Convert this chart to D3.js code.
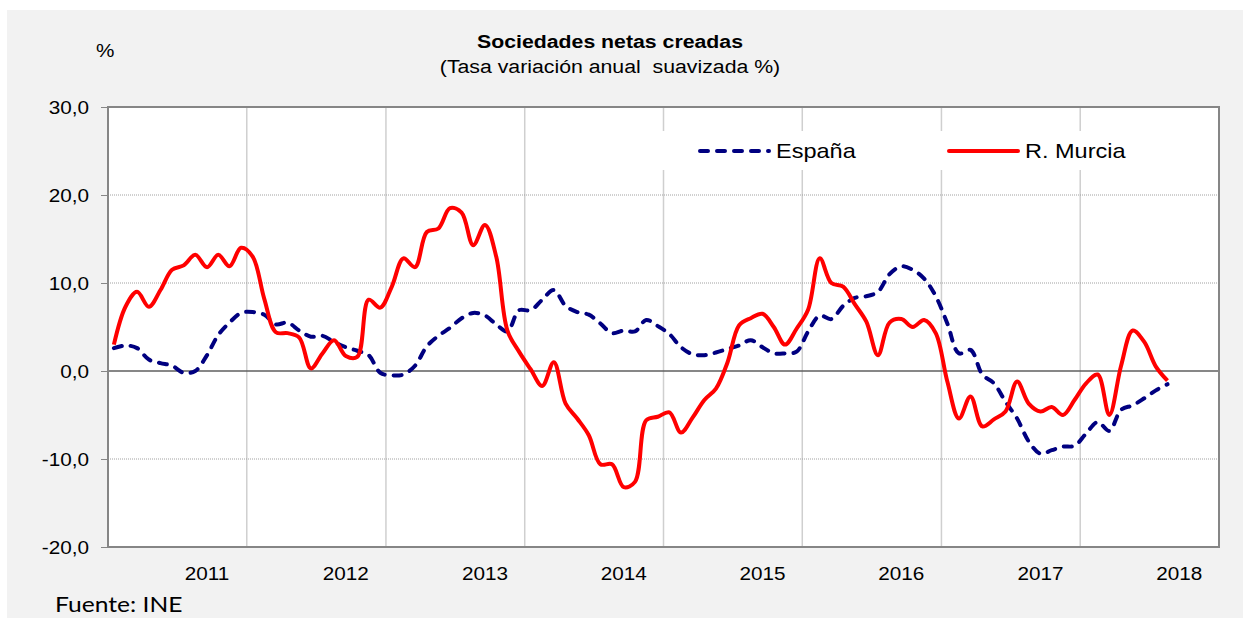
<!DOCTYPE html>
<html>
<head>
<meta charset="utf-8">
<script src="https://cdn.jsdelivr.net/npm/d3@7"></script>
<style>
body { margin: 0; background: #fff; }
text { font-family: "Liberation Sans", Arial, sans-serif; fill: #000; }
text.source { font-family: Lato, "Open Sans", sans-serif; }
</style>
</head>
<body>
<div class="chart"></div>
<script>
// monthly categories, May 2010 .. Dec 2017
var months = d3.timeMonth.range(new Date(2010, 4, 1), new Date(2018, 0, 1));

var espana = [2.6, 2.9, 2.6, 1.3, 0.9, 0.6, -0.2, 0.0, 1.8, 4.1,
  5.5, 6.6, 6.7, 6.4, 5.3, 5.5, 4.6, 3.9, 4.0, 3.3,
  2.7, 2.3, 1.8, -0.2, -0.5, -0.4, 0.6, 2.8, 4.0, 4.9,
  6.0, 6.6, 6.3, 5.3, 4.5, 6.9, 6.9, 8.1, 9.2, 7.4,
  6.7, 6.4, 5.4, 4.3, 4.6, 4.5, 5.8, 5.1, 4.2, 2.7,
  1.9, 1.8, 2.1, 2.5, 2.9, 3.5, 2.7, 2.0, 2.0, 2.2,
  4.5, 6.3, 5.9, 7.4, 8.3, 8.5, 9.0, 11.0, 11.9, 11.5,
  10.5, 8.5, 5.4, 2.0, 2.4, -0.4, -1.4, -3.5, -5.4, -8.0,
  -9.4, -9.0, -8.6, -8.5, -7.1, -5.8, -6.8, -4.4, -3.9, -3.1,
  -2.2, -1.5];

var murcia = [3.0, 7.3, 9.0, 7.3, 9.2, 11.5, 12.0, 13.2, 11.8, 13.2,
  11.9, 14.0, 13.0, 8.2, 4.4, 4.3, 3.8, 0.3, 2.0, 3.5,
  1.7, 1.6, 8.1, 7.2, 9.6, 12.8, 11.8, 15.8, 16.2, 18.5,
  18.0, 14.3, 16.6, 13.0, 4.6, 2.2, 0.2, -1.7, 1.0, -3.7,
  -5.4, -7.3, -10.6, -10.6, -13.2, -12.6, -5.6, -5.2, -4.7, -7.0,
  -5.3, -3.3, -2.0, 1.0, 5.2, 6.0, 6.5, 5.0, 3.0, 4.8,
  7.0, 12.8, 10.0, 9.6, 7.6, 5.6, 1.8, 5.5, 5.9, 5.0,
  5.8, 4.3, -1.2, -5.4, -2.9, -6.3, -5.5, -4.6, -1.2, -3.7,
  -4.6, -4.1, -5.0, -3.3, -1.4, -0.4, -5.0, 0.6, 4.6, 3.3,
  0.5, -1.1];

var yearLabels = ["2011", "2012", "2013", "2014", "2015", "2016", "2017", "2018"];
var yTicks = [30, 20, 10, 0, -10, -20];
var seriesNames = ["España", "R. Murcia"];

var width = 1243, height = 618,
margin = {top: 107, right: 24, bottom: 71, left: 108},
sx = 1.12; // the reference text is a bit wider than plain Arial

var svg = d3.select(".chart").append("svg")
  .attr("width", width)
  .attr("height", height);

svg.append("rect")
  .attr("x", 7).attr("y", 10)
  .attr("width", width - 7).attr("height", height - 10)
  .attr("fill", "#f2f2f2");

var x = d3.scaleTime()
  .domain([new Date(2010, 4, 1), new Date(2018, 4, 1)])
  .range([margin.left, width - margin.right]);

var y = d3.scaleLinear()
  .domain([-20, 30])
  .range([height - margin.bottom, margin.top]);

function mid(d) {
  return new Date((+d + +d3.timeMonth.offset(d, 1)) / 2);
}

function addText(parent, px, py, str, size, anchor, weight) {
  return parent.append("text")
    .attr("transform", "translate(" + px + "," + py + ") scale(" + sx + ",1)")
    .attr("text-anchor", anchor)
    .attr("font-size", size)
    .attr("font-weight", weight || null)
    .text(str);
}

// plot area
svg.append("rect")
  .attr("x", x.range()[0]).attr("y", y.range()[1])
  .attr("width", x.range()[1] - x.range()[0])
  .attr("height", y.range()[0] - y.range()[1])
  .attr("fill", "#fff");

var grid = svg.append("g").attr("class", "grid");

grid.selectAll(".vline")
  .data(d3.timeMonth.range(new Date(2011, 4, 1), new Date(2018, 4, 1), 12))
  .enter()
  .append("line")
  .attr("x1", function(d) { return x(d); })
  .attr("x2", function(d) { return x(d); })
  .attr("y1", y(30))
  .attr("y2", y(-20))
  .style("stroke", "#cfcfcf")
  .style("stroke-width", 1.5);

grid.selectAll(".hline")
  .data(yTicks.filter(function(d) { return d < 30 && d > -20; }))
  .enter()
  .append("line")
  .attr("x1", x.range()[0])
  .attr("x2", x.range()[1])
  .attr("y1", function(d) { return y(d); })
  .attr("y2", function(d) { return y(d); })
  .style("stroke", function(d) { return d === 0 ? "#5f5f5f" : "#a0a0a0"; })
  .style("stroke-width", function(d) { return d === 0 ? 1.3 : 1; })
  .style("stroke-dasharray", function(d) { return d === 0 ? null : "1,1"; });

// legend box hides the grid behind it
svg.append("rect")
  .attr("x", 652).attr("y", 131)
  .attr("width", 552).attr("height", 39)
  .attr("fill", "#fff");

// y axis
var fmt = function(d) { return d3.format(".1f")(d).replace(".", ",").replace("\u2212", "-"); };
var yAxis = svg.append("g")
  .attr("transform", "translate(" + margin.left + ",0)")
  .call(d3.axisLeft(y).tickValues(yTicks).tickSize(7).tickFormat(fmt));
yAxis.select(".domain").remove();
yAxis.selectAll(".tick line").style("stroke", "#868686");
yAxis.selectAll(".tick text")
  .attr("x", -19 / sx)
  .attr("dy", "0.36em")
  .attr("transform", "scale(" + sx + ",1)")
  .attr("font-size", 18.5)
  .style("fill", "#000");

// x labels (January of each year)
var xLabels = svg.append("g").attr("class", "xlabels");
yearLabels.forEach(function(yr) {
  addText(xLabels, x(mid(new Date(+yr, 0, 1))), 580, yr, 18.5, "middle");
});

// lines
var line = d3.line()
  .x(function(d, i) { return x(mid(months[i])); })
  .y(function(d) { return y(d); })
  .curve(d3.curveCatmullRom.alpha(0.5));

svg.append("path")
  .datum(espana)
  .attr("d", line)
  .attr("fill", "none")
  .style("stroke", "#000080")
  .style("stroke-width", 4)
  .style("stroke-linecap", "round")
  .style("stroke-dasharray", "8,9");

svg.append("path")
  .datum(murcia)
  .attr("d", line)
  .attr("fill", "none")
  .style("stroke", "#ff0000")
  .style("stroke-width", 4)
  .style("stroke-linejoin", "round");

// plot border
svg.append("rect")
  .attr("x", x.range()[0]).attr("y", y.range()[1])
  .attr("width", x.range()[1] - x.range()[0])
  .attr("height", y.range()[0] - y.range()[1])
  .attr("fill", "none")
  .style("stroke", "#868686")
  .style("stroke-width", 2);

// legend
var legend = svg.append("g").attr("class", "legend");
legend.append("line")
  .attr("x1", 700).attr("x2", 769).attr("y1", 151).attr("y2", 151)
  .style("stroke", "#000080").style("stroke-width", 4)
  .style("stroke-linecap", "round").style("stroke-dasharray", "8,9");
addText(legend, 776, 158, seriesNames[0], 21, "start");
legend.append("line")
  .attr("x1", 949).attr("x2", 1018).attr("y1", 151).attr("y2", 151)
  .style("stroke", "#ff0000").style("stroke-width", 4)
  .style("stroke-linecap", "round");
addText(legend, 1025, 158, seriesNames[1], 21, "start");

// titles
addText(svg, 610, 48, "Sociedades netas creadas", 19, "middle", "bold");
addText(svg, 610, 73, "(Tasa variación anual  suavizada %)", 19, "middle")
  .style("white-space", "pre");
addText(svg, 96, 57, "%", 18.5, "start");
addText(svg, 55, 612, "Fuente: INE", 22, "start")
  .attr("class", "source");
</script>
</body>
</html>
